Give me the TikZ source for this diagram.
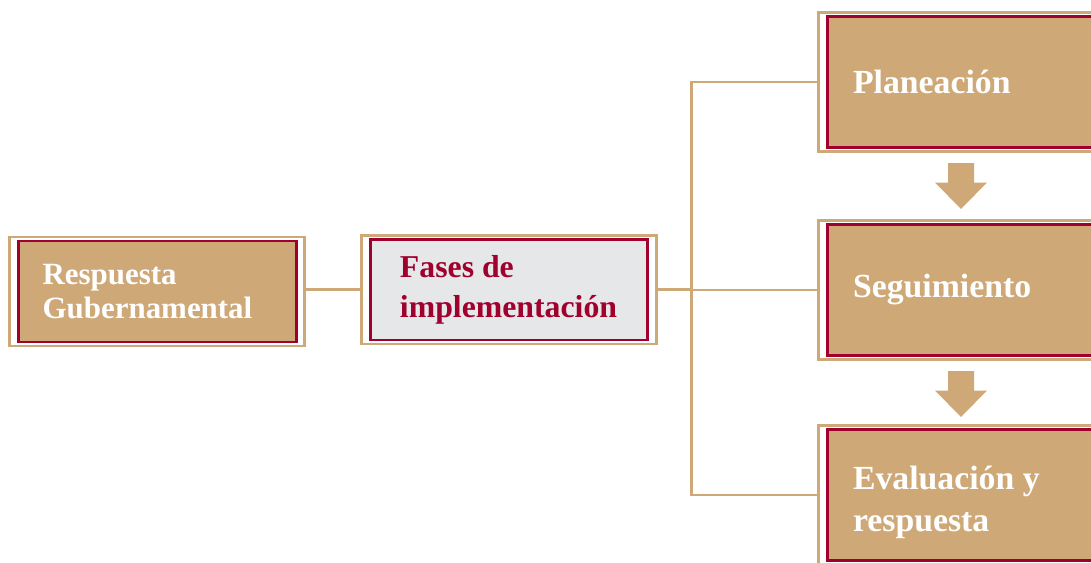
\documentclass[tikz,border=0pt]{standalone}
\usepackage{fontspec}
\setmainfont{Liberation Serif}
\usetikzlibrary{fit, positioning}
\definecolor{dorado}{RGB}{206,169,119}
\definecolor{guinda}{RGB}{160,0,46}
\definecolor{grisclaro}{RGB}{230,231,232}
\tikzset{%
  % Specifications for style of nodes:
            fase/.style = {rectangle, draw=guinda, line width=2pt,
                            fill=dorado, text=white, align=flush left,
                            font=\bfseries\fontsize{24}{30}\selectfont},
            marco/.style = {rectangle, draw=dorado, line width=2pt,
                            inner xsep=0.18cm, inner ysep=0.065cm},
            liga/.style = {draw=dorado, line width=2pt},
            flecha/.style = {fill=dorado}
}

\begin{document}
\begin{tikzpicture}[x=0.025cm, y=-0.025cm]
                \useasboundingbox (0,0) rectangle (1091,562);
                \clip (0,0) rectangle (1091,562);

                % left side
                \node[fase, minimum width=6.95cm, minimum height=2.525cm,
                      inner xsep=0.61cm, text width=5.73cm,
                      font=\bfseries\fontsize{22}{24}\selectfont]
                      (resp) at (157.25,291.5) {Respuesta\\Gubernamental};
                \node[fase, fill=grisclaro, text=guinda,
                      minimum width=6.925cm, minimum height=2.51cm,
                      inner xsep=0.74cm, text width=5.45cm,
                      font=\bfseries\fontsize{22.6}{28.5}\selectfont]
                      (fases) at (509,289.75) {Fases de\\implementación};

                % phases
                \node[fase, minimum width=10cm, minimum height=3.275cm,
                      inner xsep=0.64cm, text width=8.72cm]
                      (plan) at (1027.5,82) {Planeación};
                \node[fase, minimum width=10cm, minimum height=3.275cm,
                      inner xsep=0.64cm, text width=8.72cm]
                      (segu) at (1027.5,290) {Seguimiento};
                \node[fase, minimum width=10cm, minimum height=3.275cm,
                      inner xsep=0.64cm, text width=8.72cm]
                      (eval) at (1027.5,495) {\rule{0pt}{1.15em}Evaluación y\\respuesta};

                % outer frames
                \node[marco, fit=(resp)] (respF) {};
                \node[marco, fit=(fases)] (fasesF) {};
                \node[marco, fit=(plan)] (planF) {};
                \node[marco, fit=(segu)] (seguF) {};
                \node[marco, fit=(eval)] (evalF) {};

                \coordinate[right=0.85cm of fasesF.east] (split);
                \draw[liga] (fasesF.west -| respF.east) -- (fasesF.west);
                \draw[liga] (fasesF.east) -- (split);
                \draw[liga] (split) |- (planF.west);
                \draw[liga] (split) |- (seguF.west);
                \draw[liga] (split) |- (evalF.west);

                % block arrows
                \foreach \t in {163,371}
                  \fill[flecha] (948,\t) -- (974,\t) -- (974,\t+19.5) -- (987,\t+19.5)
                        -- (961,\t+46) -- (935,\t+19.5) -- (948,\t+19.5) -- cycle;

\end{tikzpicture}
\end{document}
